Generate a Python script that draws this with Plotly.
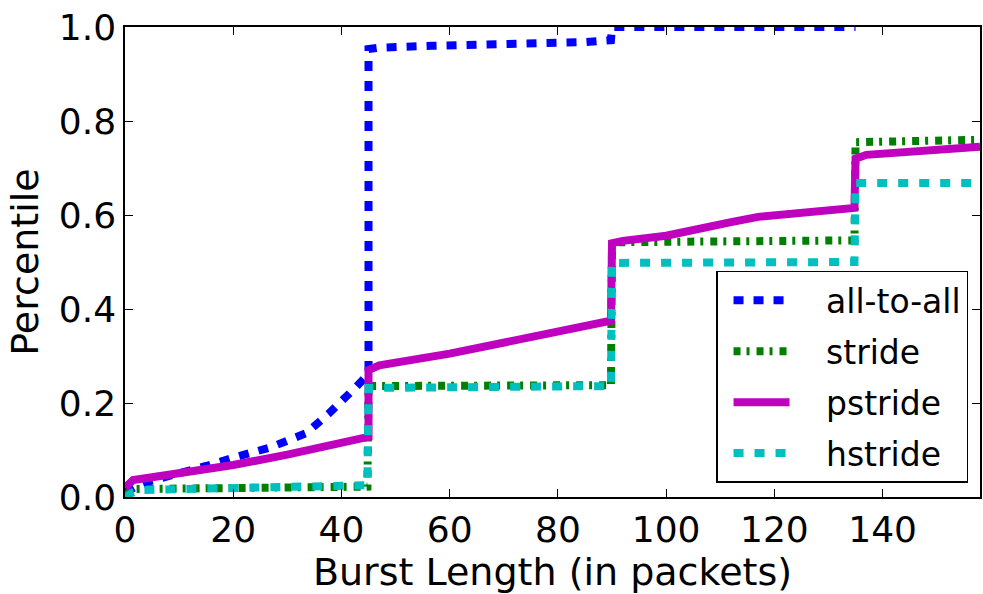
import plotly.graph_objects as go

# ---- data ----
a2a_x = [0, 2, 5, 10.7, 15, 19.9, 27, 33.5, 37.7, 42.7, 44.5, 45, 45, 47, 56.7, 70, 85, 89.8, 90, 135]
a2a_y = [0.01, 0.022, 0.035, 0.051, 0.066, 0.083, 0.106, 0.136, 0.178, 0.234, 0.255, 0.262, 0.953, 0.956, 0.96, 0.963, 0.968, 0.972, 1.0, 1.0]

stride_x = [0, 2, 44.8, 45, 89.8, 90, 134.8, 135, 158]
stride_y = [0.005, 0.017, 0.022, 0.236, 0.238, 0.542, 0.546, 0.755, 0.76]

pstride_x = [0, 1.5, 5, 20, 30, 43.8, 45, 45, 47, 60, 75, 89.8, 90, 92, 100, 106, 112, 117, 125, 134.8, 135, 137, 158]
pstride_y = [0.02, 0.036, 0.042, 0.068, 0.09, 0.121, 0.128, 0.27, 0.28, 0.305, 0.34, 0.375, 0.54, 0.545, 0.556, 0.572, 0.585, 0.596, 0.605, 0.615, 0.72, 0.728, 0.745]

hstride_x = [0, 1.5, 3, 44.8, 45, 89.8, 90, 134.8, 135, 158]
hstride_y = [0.0, 0.01, 0.015, 0.025, 0.232, 0.236, 0.498, 0.5, 0.668, 0.668]

series_names = ["all-to-all", "stride", "pstride", "hstride"]
x_ticks = [0, 20, 40, 60, 80, 100, 120, 140]
y_ticks = [0.0, 0.2, 0.4, 0.6, 0.8, 1.0]

FONT = "DejaVu Sans"
PAD = "\u00a0\u00a0\u00a0"  # gap between legend sample and label

fig = go.Figure()
styles = [
    (a2a_x, a2a_y, "#0000ff", "10px,10px", 8),
    (stride_x, stride_y, "#008000", "7px,6px,3px,7px", 8),
    (pstride_x, pstride_y, "#bf00bf", "solid", 8),
    (hstride_x, hstride_y, "#00bfbf", "10px,11px", 8),
]
for name, (xs, ys, col, dash, w) in zip(series_names, styles):
    fig.add_trace(go.Scatter(
        x=xs, y=ys, mode="lines", name=PAD + name, legendgroup=name,
        line=dict(color=col, width=w, dash=dash),
    ))

axis_common = dict(
    showline=True, linecolor="black", linewidth=1.5, mirror="ticks",
    ticks="inside", ticklen=8, tickwidth=1, tickcolor="black",
    showgrid=False, zeroline=False,
    tickfont=dict(family=FONT, size=36, color="black"),
)

fig.update_layout(
    width=983, height=594,
    margin=dict(l=125, r=1, t=27, b=97),
    paper_bgcolor="white", plot_bgcolor="white",
    font=dict(family=FONT, color="black"),
    xaxis=dict(range=[0, 158], tickvals=x_ticks, ticktext=[str(v) for v in x_ticks],
               title=dict(text="Burst Length (in packets)", font=dict(family=FONT, size=38), standoff=6),
               **axis_common),
    yaxis=dict(range=[0, 1], tickvals=y_ticks, ticktext=[f"{v:.1f}" for v in y_ticks],
               title=dict(text="Percentile", font=dict(family=FONT, size=38), standoff=8),
               **axis_common),
    legend=dict(
        x=0.986, y=0.03, xanchor="right", yanchor="bottom",
        bgcolor="white", bordercolor="black", borderwidth=1.5,
        font=dict(family=FONT, size=33, color="black"),
        tracegroupgap=5, itemwidth=56, indentation=11,
    ),
    showlegend=True,
)

fig.write_html("out.html")
